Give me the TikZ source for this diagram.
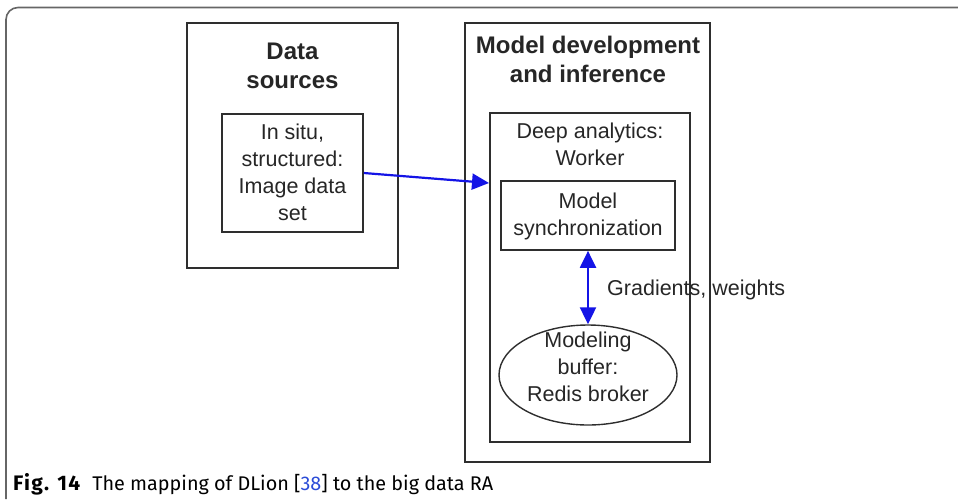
\documentclass[tikz,border=0pt]{standalone}
\usepackage{fontspec}
\setmainfont{Liberation Sans}
\newfontfamily\capfont{Fira Sans}
\newfontfamily\capboldfont[LetterSpace=6]{Fira Sans Bold}
\usetikzlibrary{arrows.meta,shapes.geometric}
\definecolor{linegray}{HTML}{2E2E2E}
\definecolor{framegray}{HTML}{666666}
\definecolor{arrowblue}{HTML}{1414E6}
\definecolor{citeblue}{HTML}{2A4BD7}
\definecolor{inkgray}{HTML}{262626}
\begin{document}
\begin{tikzpicture}[x=1pt,y=-1pt,
  box/.style={draw=linegray, line width=1.7pt, inner sep=0pt},
  title/.style={font=\fontsize{24}{28.5}\selectfont\bfseries, text=inkgray, align=center, inner sep=0pt},
  body/.style={font=\fontsize{21.5}{27}\selectfont, text=inkgray, align=center, inner sep=0pt},
  bigtip/.tip={Triangle[length=17pt,width=16pt]},
  flow/.style={draw=arrowblue, line width=2.2pt},
]
\useasboundingbox (0,0) rectangle (958,499);

% page frame
\draw[framegray, line width=1.6pt, rounded corners=12pt] (6,499) -- (6,7.5) -- (958,7.5);

% data sources (text nodes are placed by the baseline of their last line)
\node[box, minimum width=211pt, minimum height=245pt] (src) at (292.5,145.5) {};
\node[title, anchor=base] (srctitle) at (292.5,88) {Data\\sources};
\node[box, minimum width=141pt, minimum height=118pt] (insitu) at (292.5,173) {};
\node[body, anchor=base] (insitutxt) at (292.5,220) {In situ,\\structured:\\Image data\\set};

% model development and inference
\node[box, minimum width=245pt, minimum height=439pt] (model) at (587.5,242.5) {};
\node[title, anchor=base] (modeltitle) at (588,82) {Model development\\and inference};
\node[box, minimum width=200pt, minimum height=329pt] (deep) at (590,277.5) {};
\node[body, anchor=base] (deeptxt) at (590,165) {Deep analytics:\\Worker};
\node[box, minimum width=174pt, minimum height=69pt] (sync) at (588,215.5) {};
\node[body, anchor=base] (synctxt) at (588,235) {Model\\synchronization};
\node[box, ellipse, line width=1.4pt, minimum width=178pt, minimum height=100pt] (buffer) at (588,375) {};
\node[body, anchor=base] (buffertxt) at (588,401) {Modeling\\buffer:\\Redis broker};

% connectors
\coordinate (entry) at (489,183);
\draw[flow, -bigtip] (insitu.east) -- (entry);
\draw[flow, bigtip-bigtip] (sync.south) -- (buffer.north);
\node[body, anchor=base west] (gw) at (607,295) {Gradients, weights};

% caption
\node[anchor=base west, inner sep=0pt, font=\capfont\fontsize{19.8}{22}\selectfont, text=black] (caption) at (13,490)
  {{\capboldfont\fontsize{21}{22}\selectfont Fig. 14}\hspace{12pt}The mapping of DLion [\textcolor{citeblue}{38}] to the big data RA};
\end{tikzpicture}
\end{document}
